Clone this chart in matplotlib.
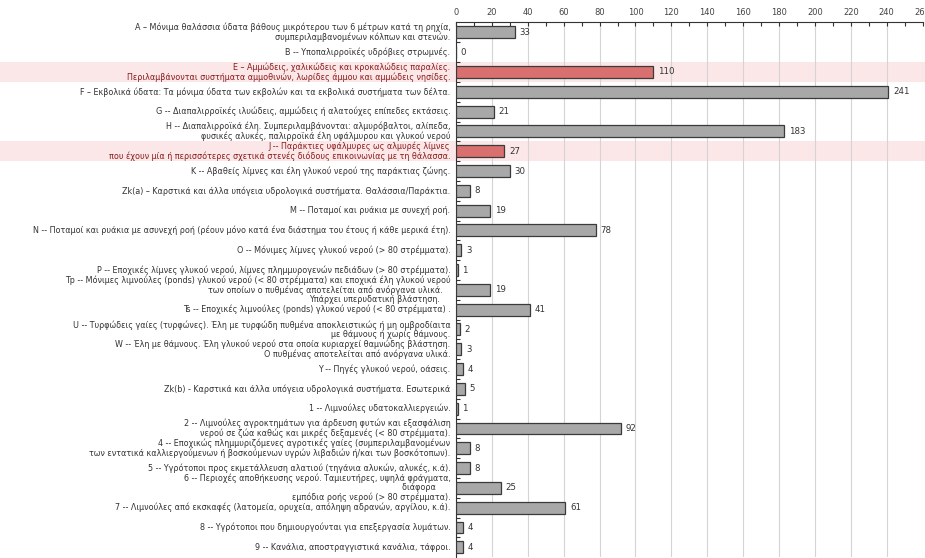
"""Ramsar wetland types: number of sites per type (horizontal bar chart)."""

import matplotlib
matplotlib.use("Agg")
import matplotlib.pyplot as plt
from matplotlib.patches import Rectangle
from matplotlib.transforms import blended_transform_factory
from matplotlib.ticker import MultipleLocator

# data
labels = [
    "A – Μόνιμα θαλάσσια ύδατα βάθους μικρότερου των 6 μέτρων κατά τη ρηχία,\nσυμπεριλαμβανομένων κόλπων και στενών.",
    "B -- Υποπαλιρροϊκές υδρόβιες στρωμνές.",
    "E – Αμμώδεις, χαλικώδεις και κροκαλώδεις παραλίες.\nΠεριλαμβάνονται συστήματα αμμοθινών, λωρίδες άμμου και αμμώδεις νησίδες.",
    "F – Εκβολικά ύδατα: Τα μόνιμα ύδατα των εκβολών και τα εκβολικά συστήματα των δέλτα.",
    "G -- Διαπαλιρροϊκές ιλυώδεις, αμμώδεις ή αλατούχες επίπεδες εκτάσεις.",
    "H -- Διαπαλιρροϊκά έλη. Συμπεριλαμβάνονται: αλμυρόβαλτοι, αλίπεδα,\nφυσικές αλυκές, παλιρροϊκά έλη υφάλμυρου και γλυκού νερού",
    "J -- Παράκτιες υφάλμυρες ως αλμυρές λίμνες\nπου έχουν μία ή περισσότερες σχετικά στενές διόδους επικοινωνίας με τη θάλασσα.",
    "K -- Αβαθείς λίμνες και έλη γλυκού νερού της παράκτιας ζώνης.",
    "Zk(a) – Καρστικά και άλλα υπόγεια υδρολογικά συστήματα. Θαλάσσια/Παράκτια.",
    "M -- Ποταμοί και ρυάκια με συνεχή ροή.",
    "N -- Ποταμοί και ρυάκια με ασυνεχή ροή (ρέουν μόνο κατά ένα διάστημα του έτους ή κάθε μερικά έτη).",
    "O -- Μόνιμες λίμνες γλυκού νερού (> 80 στρέμματα).",
    "P -- Εποχικές λίμνες γλυκού νερού, λίμνες πλημμυρογενών πεδιάδων (> 80 στρέμματα).",
    "Tp -- Μόνιμες λιμνούλες (ponds) γλυκού νερού (< 80 στρέμματα) και εποχικά έλη γλυκού νερού\nτων οποίων ο πυθμένας αποτελείται από ανόργανα υλικά.   \nΥπάρχει υπερυδατική βλάστηση.    ",
    "Ts -- Εποχικές λιμνούλες (ponds) γλυκού νερού (< 80 στρέμματα) .",
    "U -- Τυρφώδεις γαίες (τυρφώνες). Έλη με τυρφώδη πυθμένα αποκλειστικώς ή μη ομβροδίαιτα\nμε θάμνους ή χωρίς θάμνους.",
    "W -- Έλη με θάμνους. Έλη γλυκού νερού στα οποία κυριαρχεί θαμνώδης βλάστηση.\nΟ πυθμένας αποτελείται από ανόργανα υλικά.",
    "Y -- Πηγές γλυκού νερού, οάσεις.",
    "Zk(b) - Καρστικά και άλλα υπόγεια υδρολογικά συστήματα. Εσωτερικά",
    "1 -- Λιμνούλες υδατοκαλλιεργειών.",
    "2 -- Λιμνούλες αγροκτημάτων για άρδευση φυτών και εξασφάλιση\nνερού σε ζώα καθώς και μικρές δεξαμενές (< 80 στρέμματα).",
    "4 -- Εποχικώς πλημμυριζόμενες αγροτικές γαίες (συμπεριλαμβανομένων\nτων εντατικά καλλιεργούμενων ή βοσκούμενων υγρών λιβαδιών ή/και των βοσκότοπων).",
    "5 -- Υγρότοποι προς εκμετάλλευση αλατιού (τηγάνια αλυκών, αλυκές, κ.ά).",
    "6 -- Περιοχές αποθήκευσης νερού. Ταμιευτήρες, υψηλά φράγματα,\nδιάφορα      \nεμπόδια ροής νερού (> 80 στρέμματα).",
    "7 -- Λιμνούλες από εκσκαφές (λατομεία, ορυχεία, απόληψη αδρανών, αργίλου, κ.ά).",
    "8 -- Υγρότοποι που δημιουργούνται για επεξεργασία λυμάτων.",
    "9 -- Κανάλια, αποστραγγιστικά κανάλια, τάφροι.",
]
counts = [33, 0, 110, 241, 21, 183, 27, 30, 8, 19, 78, 3, 1, 19, 41,
          2, 3, 4, 5, 1, 92, 8, 8, 25, 61, 4, 4]
highlighted = [2, 6]  # rows E and J

# plot
fig = plt.figure(figsize=(9.25, 5.58), dpi=100)
ax = fig.add_axes([0.493, 0.0015, 0.5044, 0.9582])

ypos = list(range(len(counts)))
colors = ["#d9706f" if i in highlighted else "#a8a8a8" for i in ypos]
ax.barh(ypos, counts, height=0.6, color=colors, edgecolor="#3a3a3a",
        linewidth=0.9, zorder=3)

for i, val in enumerate(counts):
    ax.text(val + 2.5, i, str(val), va="center", ha="left", fontsize=6.2,
            color="#333333")

# pink bands behind highlighted rows, across the whole figure width
band_tr = blended_transform_factory(fig.transFigure, ax.transData)
for i in highlighted:
    ax.add_patch(Rectangle((0, i - 0.5), 1, 1, transform=band_tr,
                           facecolor="#fbe7e7", edgecolor="none",
                           clip_on=False, zorder=0))

# category labels
label_tr = blended_transform_factory(ax.transAxes, ax.transData)
for i, lab in enumerate(labels):
    col = "#8b1c1c" if i in highlighted else "#333333"
    ax.text(-0.012, i, lab, transform=label_tr,
            ha="right", va="center", multialignment="right", fontsize=5.8,
            linespacing=1.05, color=col)

ax.set_xlim(0, 260)
ax.set_ylim(len(counts) - 0.5, -0.5)
ax.xaxis.set_major_locator(MultipleLocator(20))
ax.xaxis.set_minor_locator(MultipleLocator(10))
ax.xaxis.tick_top()
ax.tick_params(axis="x", which="both", direction="in", length=3, width=0.8,
               colors="#333333", labelsize=6, labelcolor="#444444", pad=4)
ax.set_yticks([y + 0.5 for y in ypos[:-1]])
ax.set_yticklabels([])
ax.tick_params(axis="y", direction="in", length=3, width=0.8, colors="#333333")
ax.grid(axis="x", color="#d4d4d4", linewidth=0.8, zorder=1)
ax.set_axisbelow(True)

for side in ["right", "bottom"]:
    ax.spines[side].set_visible(False)
ax.spines["top"].set_color("#333333")
ax.spines["left"].set_color("#333333")
ax.patch.set_alpha(0)

fig.savefig("out.png", dpi=100)
